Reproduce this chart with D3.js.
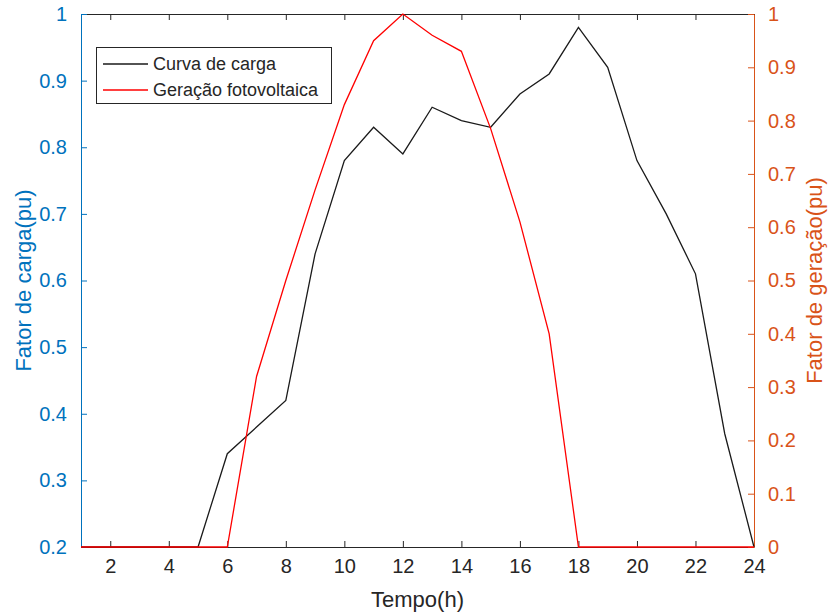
<!DOCTYPE html>
<html><head><meta charset="utf-8">
<script src="https://cdn.jsdelivr.net/npm/d3@7"></script>
<style>body{margin:0;background:#fff;} text{font-family:"Liberation Sans",Arial,sans-serif;}</style>
</head><body>
<svg id="c" width="828" height="615"></svg>
<script>
const hours = [1,2,3,4,5,6,7,8,9,10,11,12,13,14,15,16,17,18,19,20,21,22,23,24];
const cargaValues = [0.2,0.2,0.2,0.2,0.2,0.34,0.38,0.42,0.64,0.78,0.83,0.79,0.86,0.84,0.83,0.88,0.91,0.98,0.92,0.78,0.70,0.61,0.37,0.2];
const pvValues = [0,0,0,0,0,0,0.32,0.50,0.67,0.83,0.95,1.0,0.96,0.93,0.785,0.61,0.40,0,0,0,0,0,0,0];
const xTicks = [2,4,6,8,10,12,14,16,18,20,22,24];
const leftTicks = [0.2,0.3,0.4,0.5,0.6,0.7,0.8,0.9,1];
const rightTicks = [0,0.1,0.2,0.3,0.4,0.5,0.6,0.7,0.8,0.9,1];
const seriesNames = ["Curva de carga","Geração fotovoltaica"];
const labels = {x:"Tempo(h)", yl:"Fator de carga(pu)", yr:"Fator de geração(pu)"};

const L=81, R=754, T=14, B=547;
const blue="#0072BD", orange="#D95319", dark="#262626";
const svg=d3.select("#c");
const x=d3.scaleLinear().domain([1,24]).range([L,R]);
const yl=d3.scaleLinear().domain([0.2,1]).range([B,T]);
const yr=d3.scaleLinear().domain([0,1]).range([B,T]);

const fmt=d=>d3.format("~g")(d);
const gb=svg.append("g").attr("transform",`translate(0,${B})`)
  .call(d3.axisBottom(x).tickValues(xTicks).tickSizeInner(-6).tickSizeOuter(0).tickPadding(12).tickFormat(fmt));
const gt=svg.append("g").attr("transform",`translate(0,${T})`)
  .call(d3.axisTop(x).tickValues(xTicks).tickSizeInner(-6).tickSizeOuter(0).tickFormat(""));
[gb,gt].forEach(g=>{g.select(".domain").attr("stroke",dark);g.selectAll(".tick line").attr("stroke",dark);});
gb.selectAll("text").attr("fill",dark).style("font-size","20px").style("font-family","Liberation Sans, Arial, sans-serif");

const gl=svg.append("g").attr("transform",`translate(${L},0)`)
  .call(d3.axisLeft(yl).tickValues(leftTicks).tickSizeInner(-6).tickSizeOuter(0).tickPadding(14).tickFormat(fmt));
gl.select(".domain").attr("stroke",blue);
gl.selectAll(".tick line").attr("stroke",blue);
gl.selectAll("text").attr("fill",blue).style("font-size","20px").style("font-family","Liberation Sans, Arial, sans-serif");

const gr=svg.append("g").attr("transform",`translate(${R},0)`)
  .call(d3.axisRight(yr).tickValues(rightTicks).tickSizeInner(-6).tickSizeOuter(0).tickPadding(14).tickFormat(fmt));
gr.select(".domain").attr("stroke",orange);
gr.selectAll(".tick line").attr("stroke",orange);
gr.selectAll("text").attr("fill",orange).style("font-size","20px").style("font-family","Liberation Sans, Arial, sans-serif");

const lineL=d3.line().x((d,i)=>x(hours[i])).y(d=>yl(d));
const lineR=d3.line().x((d,i)=>x(hours[i])).y(d=>yr(d));
svg.append("path").datum(cargaValues).attr("d",lineL).attr("fill","none").attr("stroke","#1a1a1a").attr("stroke-width",1.3);
svg.append("path").datum(pvValues).attr("d",lineR).attr("fill","none").attr("stroke","#ff0000").attr("stroke-width",1.3);

svg.append("text").attr("x",(L+R)/2).attr("y",607).attr("text-anchor","middle").attr("fill",dark).style("font-size","22px").text(labels.x);
svg.append("text").attr("transform",`translate(31,${(T+B)/2}) rotate(-90)`).attr("text-anchor","middle").attr("fill",blue).style("font-size","22px").text(labels.yl);
svg.append("text").attr("transform",`translate(822,${(T+B)/2}) rotate(-90)`).attr("text-anchor","middle").attr("fill",orange).style("font-size","22px").text(labels.yr);

const lg=svg.append("g");
lg.append("rect").attr("x",96.5).attr("y",47.5).attr("width",235).attr("height",56).attr("fill","#fff").attr("stroke",dark).attr("stroke-width",1);
const colors=["#1a1a1a","#ff0000"];
seriesNames.forEach((n,i)=>{
  const yy=64+i*26;
  lg.append("line").attr("x1",103).attr("x2",148).attr("y1",yy).attr("y2",yy).attr("stroke",colors[i]).attr("stroke-width",1.3);
  lg.append("text").attr("x",153).attr("y",yy+6).attr("fill",dark).style("font-size","18px").text(n);
});
</script>
</body></html>
